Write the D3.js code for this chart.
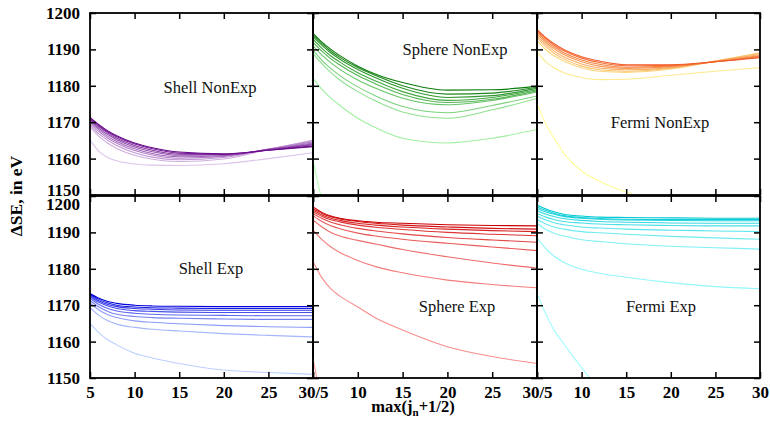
<!DOCTYPE html>
<html><head><meta charset="utf-8">
<script src="https://cdn.jsdelivr.net/npm/d3@7"></script>
<style>body{margin:0;background:#fff}svg{display:block}</style>
</head><body>
<svg id="c" width="770" height="423"></svg>
<script>
// ---------- DATA ----------
const xs = [5, 6, 7, 8, 10, 12, 15, 20, 25, 30];
const xTicks = [5, 10, 15, 20, 25, 30];
const yTicks = [1150, 1160, 1170, 1180, 1190, 1200];
const panelNames = ["Shell NonExp", "Sphere NonExp", "Fermi NonExp", "Shell Exp", "Sphere Exp", "Fermi Exp"];

const shellNonExp = [
  [1171.3, 1169.3, 1167.6, 1166.3, 1164.3, 1163.0, 1161.8, 1161.3, 1162.3, 1163.3],
  [1171.0, 1169.0, 1167.3, 1166.0, 1164.0, 1162.7, 1161.5, 1161.2, 1162.3, 1163.5],
  [1170.8, 1168.7, 1167.0, 1165.6, 1163.6, 1162.3, 1161.2, 1161.1, 1162.4, 1163.8],
  [1170.5, 1168.3, 1166.6, 1165.2, 1163.2, 1161.9, 1160.9, 1161.0, 1162.5, 1164.0],
  [1170.1, 1167.9, 1166.1, 1164.7, 1162.7, 1161.4, 1160.5, 1160.8, 1162.5, 1164.3],
  [1169.7, 1167.4, 1165.6, 1164.2, 1162.2, 1161.0, 1160.1, 1160.6, 1162.6, 1164.6],
  [1169.2, 1166.8, 1165.0, 1163.6, 1161.6, 1160.4, 1159.7, 1160.3, 1162.6, 1164.9],
  [1168.6, 1166.1, 1164.2, 1162.8, 1160.9, 1159.8, 1159.2, 1159.9, 1162.5, 1165.1],
  [1165.1, 1162.0, 1160.3, 1159.4, 1158.5, 1158.2, 1158.1, 1158.6, 1160.0, 1161.6]
];
const sphereNonExp = [
  [1194.4, 1192.0, 1190.0, 1188.3, 1185.4, 1183.2, 1180.9, 1178.8, 1178.9, 1179.9],
  [1194.0, 1191.6, 1189.5, 1187.8, 1185.0, 1182.8, 1180.0, 1177.7, 1178.0, 1179.6],
  [1193.5, 1191.1, 1189.0, 1187.3, 1184.5, 1182.2, 1179.3, 1176.8, 1177.3, 1179.3],
  [1192.8, 1190.3, 1188.2, 1186.5, 1183.6, 1181.3, 1178.4, 1176.0, 1176.8, 1178.9],
  [1192.0, 1189.5, 1187.4, 1185.7, 1182.8, 1180.5, 1177.6, 1175.4, 1176.3, 1178.6],
  [1191.0, 1188.4, 1186.3, 1184.5, 1181.6, 1179.3, 1176.6, 1174.8, 1176.0, 1178.3],
  [1189.8, 1187.0, 1184.7, 1182.8, 1179.7, 1177.2, 1174.3, 1172.6, 1174.6, 1177.2],
  [1188.9, 1186.0, 1183.6, 1181.6, 1178.4, 1175.8, 1172.8, 1171.1, 1173.4, 1176.5],
  [1182.1, 1179.0, 1176.6, 1174.6, 1171.1, 1168.5, 1165.6, 1164.3, 1165.6, 1168.0],
  [1159.6, 1148.5, 1140.0, 1133.0, 1123.0, 1116.0, 1108.0, 1100.0, 1095.0, 1092.0]
];
const fermiNonExp = [
  [1195.5, 1193.2, 1191.4, 1190.0, 1188.0, 1186.8, 1185.8, 1185.8, 1186.6, 1187.7],
  [1195.2, 1192.9, 1191.0, 1189.6, 1187.6, 1186.4, 1185.5, 1185.6, 1186.6, 1187.9],
  [1194.8, 1192.4, 1190.5, 1189.1, 1187.1, 1185.9, 1185.1, 1185.4, 1186.6, 1188.1],
  [1194.3, 1191.9, 1190.0, 1188.6, 1186.6, 1185.4, 1184.8, 1185.2, 1186.7, 1188.3],
  [1193.8, 1191.3, 1189.4, 1188.0, 1186.0, 1184.9, 1184.4, 1185.0, 1186.7, 1188.6],
  [1193.2, 1190.7, 1188.8, 1187.4, 1185.4, 1184.4, 1184.0, 1184.8, 1186.8, 1188.9],
  [1192.4, 1189.9, 1188.1, 1186.8, 1184.9, 1184.0, 1183.7, 1184.6, 1186.8, 1189.1],
  [1189.4, 1186.6, 1184.8, 1183.6, 1182.3, 1181.7, 1181.8, 1182.9, 1184.0, 1185.0],
  [1175.2, 1169.4, 1165.3, 1161.5, 1156.6, 1153.8, 1150.8, 1147.0, 1144.0, 1142.0]
];
const shellExp = [
  [1173.2, 1171.9, 1171.0, 1170.5, 1170.0, 1169.8, 1169.7, 1169.6, 1169.6, 1169.6],
  [1173.0, 1171.6, 1170.6, 1170.0, 1169.5, 1169.3, 1169.2, 1169.1, 1169.1, 1169.1],
  [1172.7, 1171.2, 1170.2, 1169.6, 1169.1, 1168.9, 1168.7, 1168.6, 1168.6, 1168.6],
  [1172.3, 1170.8, 1169.8, 1169.1, 1168.5, 1168.3, 1168.1, 1168.0, 1168.0, 1168.0],
  [1171.9, 1170.2, 1169.1, 1168.4, 1167.8, 1167.5, 1167.3, 1167.2, 1167.1, 1167.1],
  [1171.3, 1169.5, 1168.3, 1167.5, 1166.9, 1166.6, 1166.4, 1166.2, 1166.1, 1166.1],
  [1170.6, 1168.7, 1167.4, 1166.6, 1165.7, 1165.3, 1164.9, 1164.4, 1164.1, 1163.9],
  [1169.4, 1167.2, 1165.7, 1164.8, 1163.9, 1163.4, 1162.9, 1162.2, 1161.7, 1161.3],
  [1165.0, 1162.4, 1160.5, 1159.1, 1156.8, 1155.5, 1154.0, 1152.2, 1151.5, 1151.0]
];
const sphereExp = [
  [1197.0, 1195.5, 1194.5, 1193.9, 1193.2, 1192.8, 1192.5, 1192.1, 1191.9, 1191.8],
  [1196.5, 1195.2, 1194.3, 1193.7, 1193.0, 1192.5, 1192.0, 1191.5, 1191.1, 1190.9],
  [1196.1, 1194.8, 1193.9, 1193.3, 1192.5, 1192.0, 1191.5, 1190.9, 1190.5, 1190.2],
  [1195.7, 1194.4, 1193.5, 1192.9, 1192.0, 1191.4, 1190.8, 1190.0, 1189.5, 1189.1],
  [1195.2, 1193.8, 1192.8, 1192.1, 1191.1, 1190.4, 1189.6, 1188.6, 1187.9, 1187.3],
  [1194.6, 1193.0, 1191.8, 1191.0, 1189.8, 1189.0, 1188.1, 1187.0, 1186.0, 1185.0],
  [1193.4, 1191.5, 1190.0, 1189.0, 1187.8, 1186.8, 1185.3, 1183.3, 1181.6, 1180.2],
  [1190.7, 1188.0, 1186.0, 1184.5, 1182.3, 1180.6, 1178.9, 1176.9, 1175.7, 1174.8],
  [1182.0, 1177.5, 1174.5, 1172.5, 1169.5, 1166.5, 1163.2, 1158.6, 1155.9, 1154.0],
  [1155.5, 1143.0, 1134.0, 1127.0, 1117.0, 1110.0, 1102.0, 1094.0, 1089.0, 1086.0]
];
const fermiExp = [
  [1197.5, 1196.4, 1195.6, 1195.0, 1194.5, 1194.2, 1194.1, 1194.0, 1193.9, 1193.9],
  [1197.0, 1196.0, 1195.2, 1194.6, 1194.1, 1193.8, 1193.6, 1193.5, 1193.5, 1193.5],
  [1196.6, 1195.6, 1194.9, 1194.4, 1193.9, 1193.6, 1193.4, 1193.3, 1193.2, 1193.2],
  [1196.0, 1195.0, 1194.3, 1193.8, 1193.3, 1193.0, 1192.8, 1192.6, 1192.5, 1192.5],
  [1195.2, 1194.2, 1193.5, 1193.0, 1192.6, 1192.3, 1192.1, 1191.9, 1191.8, 1191.8],
  [1194.5, 1193.4, 1192.6, 1192.1, 1191.5, 1191.2, 1190.9, 1190.6, 1190.4, 1190.2],
  [1193.6, 1192.3, 1191.4, 1190.9, 1190.2, 1189.9, 1189.5, 1188.9, 1188.5, 1188.1],
  [1192.5, 1190.8, 1189.7, 1189.0, 1188.0, 1187.5, 1186.9, 1186.2, 1185.8, 1185.4],
  [1188.5, 1185.5, 1183.3, 1181.8, 1179.9, 1178.8, 1177.7, 1176.2, 1175.1, 1174.5],
  [1173.3, 1167.5, 1162.8, 1159.4, 1152.8, 1147.0, 1140.0, 1132.0, 1126.0, 1122.0]
];

// ---------- STYLE / LAYOUT ----------
const panelSeries = [shellNonExp, sphereNonExp, fermiNonExp, shellExp, sphereExp, fermiExp];
const panelColors = [
  ["#6a0a8c", "#dcc4ea"],
  ["#0a7a0a", "#b4ffb4"],
  ["#f25a28", "#ffff99"],
  ["#0000dc", "#bcd0ff"],
  ["#cc0000", "#ffa0a0"],
  ["#00c8d4", "#a4fcff"]
];
const labelPos = [[210, 93], [455, 55], [660, 128], [211, 274], [457, 312], [661, 312]];
const colX = [90, 313, 537, 760];
const rowY = [[13, 195], [196, 378]];
const serif = "'Liberation Serif','Times New Roman',serif";

const svg = d3.select("#c");
const defs = svg.append("defs");

panelSeries.forEach((series, p) => {
  const col = p % 3, row = Math.floor(p / 3);
  const x0 = colX[col], x1 = colX[col + 1];
  const [yTop, yBot] = rowY[row];
  const x = d3.scaleLinear().domain([5, 30]).range([x0, x1]);
  const y = d3.scaleLinear().domain([1150, 1200]).range([yBot, yTop]);

  defs.append("clipPath").attr("id", "clip" + p)
    .append("rect").attr("x", x0).attr("y", yTop).attr("width", x1 - x0).attr("height", yBot - yTop);

  const g = svg.append("g");
  const color = d3.interpolateRgb(panelColors[p][0], panelColors[p][1]);
  const line = d3.line().x((d, i) => x(xs[i])).y(d => y(d)).curve(d3.curveMonotoneX);
  const cg = g.append("g").attr("clip-path", `url(#clip${p})`);
  series.slice().reverse().forEach((s, ri) => {
    const i = series.length - 1 - ri;
    cg.append("path").attr("d", line(s)).attr("fill", "none")
      .attr("stroke", color(series.length > 1 ? i / (series.length - 1) : 0))
      .attr("stroke-width", 1.1);
  });

  // ticks on all four sides, inward
  const fmtNone = () => "";
  const bottomFmt = row === 1 ? (d => {
    if (col === 0) return d === 30 ? "30/5" : d;
    if (col === 1) return d === 5 ? "" : (d === 30 ? "30/5" : d);
    return d === 5 ? "" : d;
  }) : fmtNone;
  const axB = g.append("g").attr("transform", `translate(0,${yBot})`)
    .call(d3.axisBottom(x).tickValues(xTicks).tickSize(-6).tickPadding(8).tickFormat(bottomFmt));
  const axT = g.append("g").attr("transform", `translate(0,${yTop})`)
    .call(d3.axisTop(x).tickValues(xTicks).tickSize(-6).tickFormat(fmtNone));
  const leftFmt = col === 0 ? (d => d) : fmtNone;
  const axL = g.append("g").attr("transform", `translate(${x0},0)`)
    .call(d3.axisLeft(y).tickValues(yTicks).tickSize(-6).tickPadding(10).tickFormat(leftFmt));
  const axR = g.append("g").attr("transform", `translate(${x1},0)`)
    .call(d3.axisRight(y).tickValues(yTicks).tickSize(-6).tickFormat(fmtNone));
  [axB, axT, axL, axR].forEach(a => {
    a.select(".domain").remove();
    a.selectAll(".tick line").attr("stroke", "#000").attr("stroke-width", 1.5);
    a.selectAll("text").attr("font-family", serif).attr("font-size", 17)
      .attr("font-weight", "bold").attr("fill", "#000");
  });
  // overlapping labels at shared border
  if (col === 0) {
    axL.selectAll(".tick text").filter(d => row === 0 && d === 1150).attr("dy", "0.05em");
    axL.selectAll(".tick text").filter(d => row === 1 && d === 1200).attr("dy", "0.78em");
  }

  g.append("rect").attr("x", x0).attr("y", yTop).attr("width", x1 - x0).attr("height", yBot - yTop)
    .attr("fill", "none").attr("stroke", "#000").attr("stroke-width", 1.8);

  g.append("text").attr("x", labelPos[p][0]).attr("y", labelPos[p][1])
    .attr("text-anchor", "middle").attr("font-family", serif).attr("font-size", 16.5)
    .attr("fill", "#111").text(panelNames[p]);
});

// axis titles
svg.append("text").attr("transform", "translate(22,196) rotate(-90)")
  .attr("text-anchor", "middle").attr("font-family", serif).attr("font-size", 17.5)
  .attr("font-weight", "bold").text("ΔSE, in eV");

const xl = svg.append("text").attr("x", 413).attr("y", 412).attr("text-anchor", "middle")
  .attr("font-family", serif).attr("font-size", 16.5).attr("font-weight", "bold");
xl.append("tspan").text("max(j");
xl.append("tspan").attr("font-size", 11).attr("dy", 4).text("n");
xl.append("tspan").attr("dy", -4).text("+1/2)");
</script>
</body></html>
